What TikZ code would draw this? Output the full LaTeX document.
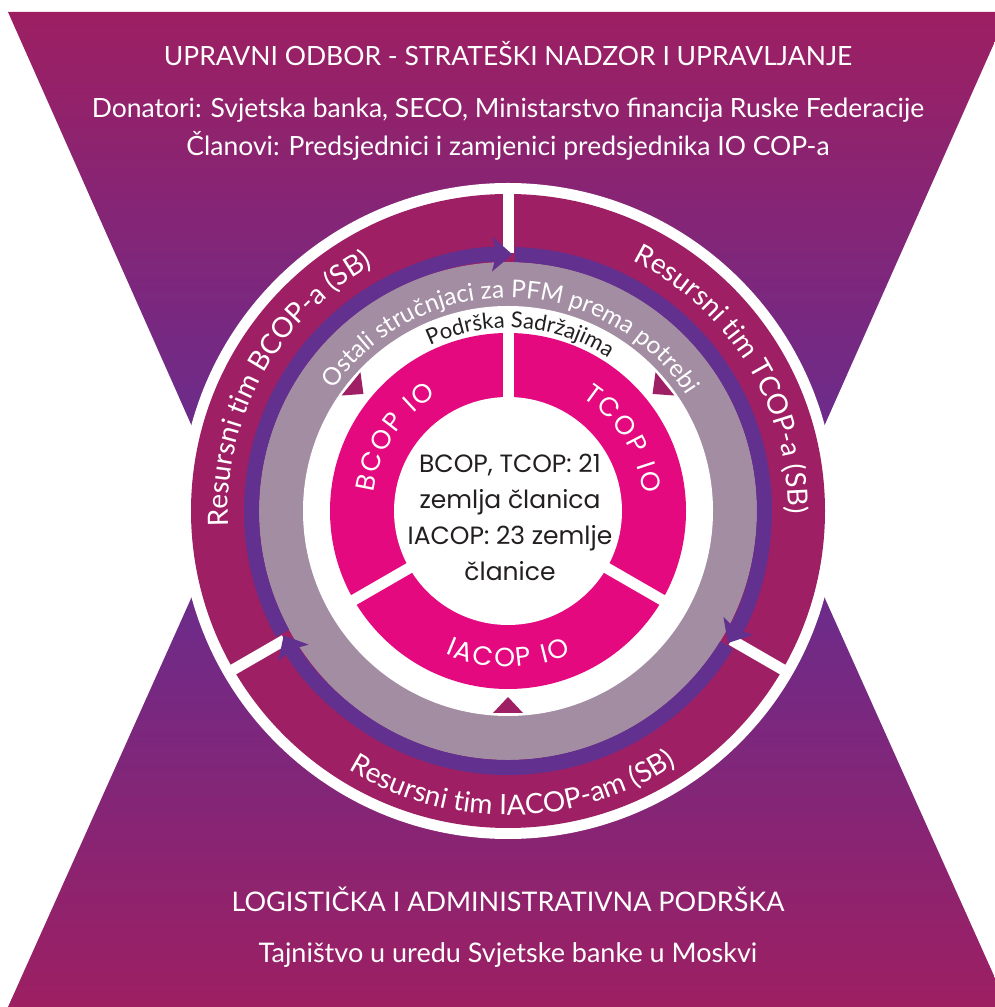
\documentclass[tikz,border=0pt]{standalone}
\usepackage{fontspec}
\setmainfont{Lato}
\newfontfamily\geo{Poppins}
\usetikzlibrary{decorations.text,arrows.meta}
\definecolor{mag}{HTML}{9E1F63}
\definecolor{purp}{HTML}{62318F}
\definecolor{greyr}{HTML}{A38DA2}
\definecolor{pinkr}{HTML}{E5097F}
\definecolor{bgmag}{HTML}{9D1F62}
\definecolor{bgpur}{HTML}{6A2C8C}
\definecolor{txt}{HTML}{231F20}
\newcommand\fRes{\fontsize{28pt}{30pt}\selectfont\color{white}}
\newcommand\fOst{\fontsize{24.5pt}{26pt}\selectfont\color{white}}
\newcommand\fPod{\fontsize{22pt}{24pt}\selectfont\color{txt}}
\newcommand\fIO{\geo\fontsize{26.5pt}{28pt}\selectfont\color{white}}
\newcommand\ks{\kern2pt}
\tikzset{
  ringtext/.style={decorate, decoration={text along path, text align=center, text={#1}}},
  gapline/.style={white, line width=11pt},
  parrow/.style={purp, line width=15pt, -{Stealth[length=20pt,width=34pt,inset=4pt]}},
  headtext/.style={text=white, anchor=base},
}
\begin{document}
\begin{tikzpicture}[x=1pt,y=1pt]
\useasboundingbox (0,0) rectangle (995,1007);
\clip (0,0) rectangle (995,1007);
\coordinate (C) at (508,496);
% hourglass background
\shade[top color=bgmag, bottom color=bgpur] (8,995) -- (1008,995) -- (818,567) -- (198,567) -- cycle;
\shade[top color=bgpur, bottom color=bgmag] (198,424) -- (818,424) -- (1008,0) -- (8,0) -- cycle;
% rings
\fill[white] (C) circle[radius=328pt];
\fill[mag] (C) circle[radius=317pt];
\fill[greyr] (C) circle[radius=249pt];
\foreach \a in {90,210,330} \draw[gapline] (C) ++(\a:258pt) -- ++(\a:68pt);
% purple clockwise arrows
\draw[parrow] (C) ++(208.5:256.5pt) arc[start angle=208.5, end angle=89, radius=256.5pt];
\draw[parrow] (C) ++(88.5:256.5pt) arc[start angle=88.5, end angle=-31, radius=256.5pt];
\draw[parrow] (C) ++(328.5:256.5pt) arc[start angle=328.5, end angle=209, radius=256.5pt];
\fill[white] (C) circle[radius=205pt];
% small triangles
\foreach \a in {141,39,270}{
  \begin{scope}[shift={(C)}, rotate=\a]
    \fill[mag] (202pt,15pt) -- (186pt,0pt) -- (202pt,-15pt) -- cycle;
  \end{scope}
}
% inner pink ring
\fill[pinkr] (C) circle[radius=178pt];
\fill[white] (C) circle[radius=114pt];
\foreach \a in {90,210,330} \draw[gapline] (C) ++(\a:108pt) -- ++(\a:74pt);
% curved texts
\path[ringtext={|\fRes|Resursni tim BCOP-a (SB)}] (C) ++(210:280pt) arc[start angle=210, end angle=92, radius=280pt];
\path[ringtext={|\fRes|Resursni tim TCOP-a (SB)}] (C) ++(90:280pt) arc[start angle=90, end angle=-27, radius=280pt];
\path[ringtext={|\fRes|Resursni tim IACOP-am (SB)}] (C) ++(211:304pt) arc[start angle=211, end angle=331, radius=304pt];
\path[ringtext={|\fOst|Ostali stručnjaci za PFM prema potrebi}] (C) ++(178:213pt) arc[start angle=178, end angle=0, radius=213pt];
\path[ringtext={|\fPod|Podrška Sadržajima}] (C) ++(140:183pt) arc[start angle=140, end angle=32, radius=183pt];
\path[ringtext={|\fIO|B{\ks}C{\ks}O{\ks}P{\ks} {\ks}I{\ks}O}] (C) ++(195:136pt) arc[start angle=195, end angle=99, radius=136pt];
\path[ringtext={|\fIO|T{\ks}C{\ks}O{\ks}P{\ks} {\ks}I{\ks}O}] (C) ++(80:136pt) arc[start angle=80, end angle=-16, radius=136pt];
\path[ringtext={|\fIO|I{\ks}A{\ks}C{\ks}O{\ks}P{\ks} {\ks}I{\ks}O}] (C) ++(220:156pt) arc[start angle=220, end angle=320, radius=156pt];
% centre text
\node[align=center, font=\geo\fontsize{25pt}{36pt}\selectfont, text=txt] (ctr) at (510,490) {BCOP, TCOP: 21\\zemlja članica\\IACOP: 23 zemlje\\članice};
% headings
\node[headtext, font=\fontsize{26.5pt}{28pt}\selectfont] (t1) at (508,941) {UPRAVNI ODBOR - STRATEŠKI NADZOR I UPRAVLJANJE};
\node[headtext, font=\fontsize{26.5pt}{28pt}\selectfont] (t2) at (508,889) {Donatori: Svjetska banka, SECO, Ministarstvo financija Ruske Federacije};
\node[headtext, font=\fontsize{26.5pt}{28pt}\selectfont] (t3) at (508,851) {Članovi: Predsjednici i zamjenici predsjednika IO COP-a};
\node[headtext, font=\fontsize{27pt}{29pt}\selectfont] (b1) at (508,95) {LOGISTIČKA I ADMINISTRATIVNA PODRŠKA};
\node[headtext, font=\fontsize{27pt}{29pt}\selectfont] (b2) at (508,44) {Tajništvo u uredu Svjetske banke u Moskvi};
\end{tikzpicture}
\end{document}
